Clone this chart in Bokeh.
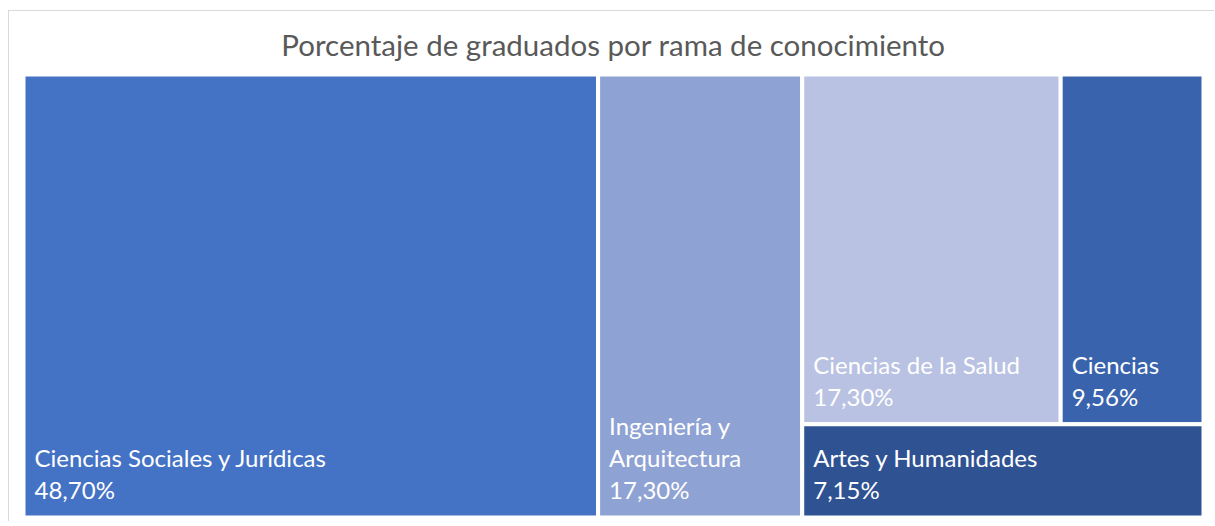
from bokeh.plotting import figure
from bokeh.models import ColumnDataSource, Range1d
from bokeh.core.properties import value
from bokeh.embed import file_html
from bokeh.resources import INLINE

title_text = "Porcentaje de graduados por rama de conocimiento"
categories = ["Ciencias Sociales y Jurídicas", "Ingeniería y Arquitectura",
              "Ciencias de la Salud", "Ciencias", "Artes y Humanidades"]
label_names = ["Ciencias Sociales y Jurídicas", "Ingeniería y\nArquitectura",
               "Ciencias de la Salud", "Ciencias", "Artes y Humanidades"]
percentages = [48.70, 17.30, 17.30, 9.56, 7.15]
colors = ["#4472C4", "#8FA2D4", "#B9C2E2", "#3A63AE", "#2F5293"]

# ---- treemap layout (Excel-like): two full-height columns, then a block
total = sum(percentages)
left, right, bottom, top = [], [], [], []
x0 = 0.0
for v in percentages[:2]:
    left.append(x0); right.append(x0 + v); bottom.append(0.0); top.append(1.0)
    x0 += v
rest = sum(percentages[2:])
top_row = percentages[2] + percentages[3]
h_top = top_row / rest
xx = x0
for v in percentages[2:4]:
    w = v / h_top
    left.append(xx); right.append(xx + w); bottom.append(1.0 - h_top); top.append(1.0)
    xx += w
left.append(x0); right.append(x0 + rest); bottom.append(0.0); top.append(1.0 - h_top)

def fmt(v):
    return f"{v:.2f}".replace(".", ",") + "%"

labels = [f"{n}\n{fmt(v)}" for n, v in zip(label_names, percentages)]

src = ColumnDataSource(dict(left=left, right=right, bottom=bottom, top=top,
                            color=colors, label=labels, cat=categories))

# figure geometry (px)
W, H = 1206, 511
mb_left, mb_right, mb_top, mb_bottom = 10, 8, 59, 0
frame_w = W - mb_left - mb_right
frame_h = H - mb_top - mb_bottom
pad_l, pad_r, pad_t, pad_b = 4, 4, 4, 5       # white margin inside frame
tm_w = frame_w - pad_l - pad_r
tm_h = frame_h - pad_t - pad_b
x_range = Range1d(-total * pad_l / tm_w, total + total * pad_r / tm_w)
y_range = Range1d(-pad_b / tm_h, 1 + pad_t / tm_h)

p = figure(width=W, height=H, output_backend="svg", toolbar_location=None,
           x_range=x_range, y_range=y_range,
           min_border_left=mb_left, min_border_right=mb_right,
           min_border_top=mb_top, min_border_bottom=mb_bottom, title=title_text)
p.axis.visible = False
p.grid.visible = False
p.outline_line_color = None
p.background_fill_color = None
p.border_fill_color = None
p.styles = {"margin-left": "8px", "margin-top": "10px",
            "border-left": "1px solid #d9d9d9", "border-top": "1px solid #d9d9d9"}

p.title.align = "center"
p.title.text_font = "Lato"
p.title.text_font_size = "29.5px"
p.title.text_font_style = "normal"
p.title.text_color = "#595959"
p.title.standoff = 18

p.quad(left="left", right="right", bottom="bottom", top="top", source=src,
       fill_color="color", line_color="white", line_width=4)

p.text(x="left", y="bottom", text="label", source=src,
       text_font=value("Lato"), text_font_size="24px", text_color="white",
       text_align="left", text_baseline="bottom", text_line_height=1.11,
       x_offset=11, y_offset=-13)

open("out.html", "w").write(file_html(p, INLINE))
